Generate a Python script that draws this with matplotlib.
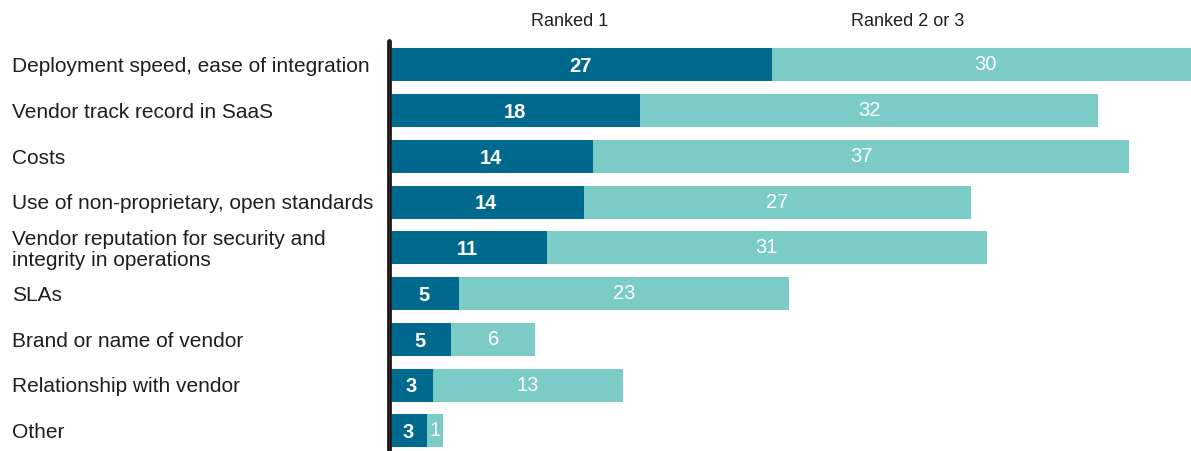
import matplotlib.pyplot as plt
from matplotlib.transforms import blended_transform_factory

categories = [
    'Deployment speed, ease of integration',
    'Vendor track record in SaaS',
    'Costs',
    'Use of non-proprietary, open standards',
    'Vendor reputation for security and\nintegrity in operations',
    'SLAs',
    'Brand or name of vendor',
    'Relationship with vendor',
    'Other',
]
# bar lengths, printed labels as shown
ranked1 = [27.0, 17.7, 14.4, 13.7, 11.1, 4.9, 4.4, 3.1, 2.7]
ranked23 = [30.0, 32.2, 37.7, 27.3, 31.0, 23.3, 5.9, 13.4, 1.1]
ranked1_labels = ['27', '18', '14', '14', '11', '5', '5', '3', '3']
ranked23_labels = ['30', '32', '37', '27', '31', '23', '6', '13', '1']

dark = '#006A8E'
light = '#7BCBC7'

plt.rcParams['font.family'] = ['Liberation Sans', 'DejaVu Sans']

fig = plt.figure(figsize=(11.91, 4.51), dpi=100)
ax = fig.add_axes([389 / 1191, 0, 802 / 1191, 410 / 451])

y = list(range(len(categories)))
ax.barh(y, ranked1, height=0.72, color=dark)
ax.barh(y, ranked23, left=ranked1, height=0.72, color=light)

for i in y:
    ax.text(ranked1[i] / 2, i + 0.04, ranked1_labels[i], ha='center', va='center',
            color='white', fontsize=14.5, fontweight='bold')
    ax.text(ranked1[i] + ranked23[i] / 2, i, ranked23_labels[i], ha='center',
            va='center', color='white', fontsize=14.5)

ax.set_xlim(0, 802 / 14.2)
ax.set_ylim(8.44, -0.52)

# category labels at the left edge of the figure
trans = blended_transform_factory(fig.transFigure, ax.transData)
for i, c in enumerate(categories):
    ax.text(12 / 1191, i + 0.04, c, transform=trans, ha='left', va='center',
            fontsize=15, color='#1e1e1e', linespacing=1.12, clip_on=False)

fig.text(570 / 1191, 1 - 22 / 451, 'Ranked 1', ha='center', va='center',
         fontsize=13, color='#1e1e1e')
fig.text(908 / 1191, 1 - 22 / 451, 'Ranked 2 or 3', ha='center', va='center',
         fontsize=13, color='#1e1e1e')

for s in ['top', 'right', 'bottom']:
    ax.spines[s].set_visible(False)
ax.spines['left'].set_color('#231F20')
ax.spines['left'].set_linewidth(3.5)
ax.spines['left'].set_capstyle('round')
ax.set_xticks([])
ax.set_yticks([])

fig.savefig('out.png', dpi=100)
